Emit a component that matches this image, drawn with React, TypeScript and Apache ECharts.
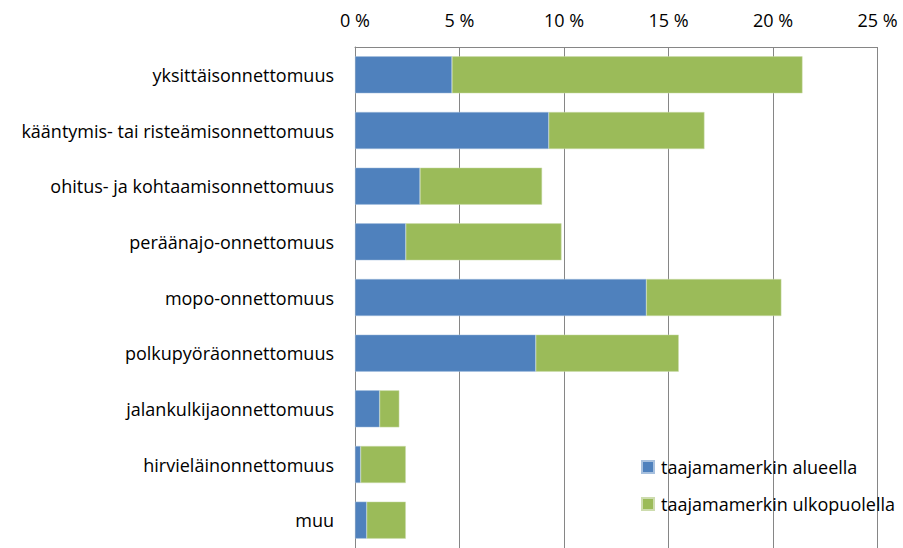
import React, { useEffect, useRef } from "react";
import * as echarts from "echarts";

const categories = [
  "yksittäisonnettomuus",
  "kääntymis- tai risteämisonnettomuus",
  "ohitus- ja kohtaamisonnettomuus",
  "peräänajo-onnettomuus",
  "mopo-onnettomuus",
  "polkupyöräonnettomuus",
  "jalankulkijaonnettomuus",
  "hirvieläinonnettomuus",
  "muu",
];
const insideArea = [4.64, 9.27, 3.11, 2.43, 13.94, 8.65, 1.18, 0.27, 0.56];
const outsideArea = [16.77, 7.45, 5.84, 7.45, 6.46, 6.84, 0.94, 2.16, 1.87];
const seriesNames = ["taajamamerkin alueella", "taajamamerkin ulkopuolella"];
const xTicks = { min: 0, max: 25, interval: 5 };

const FONT = "'Open Sans', 'Noto Sans', sans-serif";
const FS = 18;

export default function App() {
  const ref = useRef<HTMLDivElement>(null);
  useEffect(() => {
    if (!ref.current) return;
    const chart = echarts.init(ref.current, undefined, { renderer: "svg" });
    chart.setOption({
      animation: false,
      backgroundColor: "#ffffff",
      textStyle: { fontFamily: FONT },
      grid: { left: 355, top: 47, width: 522.5, height: 506, containLabel: false },
      legend: {
        orient: "vertical",
        left: 636,
        top: 451,
        icon: "rect",
        itemWidth: 12,
        itemHeight: 12,
        itemGap: 15,
        data: seriesNames,
        textStyle: { fontFamily: FONT, fontSize: FS, color: "#000", lineHeight: 22, padding: [0, 0, 0, 2] },
      },
      xAxis: {
        type: "value",
        position: "top",
        min: xTicks.min,
        max: xTicks.max,
        interval: xTicks.interval,
        axisLine: { show: true, lineStyle: { color: "#868686", width: 1 } },
        axisTick: { show: false },
        splitLine: { show: true, lineStyle: { color: "#868686", width: 1 } },
        axisLabel: {
          formatter: (v: number) => `${v} %`,
          fontFamily: FONT,
          fontSize: FS,
          color: "#000",
          margin: 18,
        },
      },
      yAxis: {
        type: "category",
        data: categories,
        inverse: true,
        axisLine: { show: true, lineStyle: { color: "#868686", width: 1 } },
        axisTick: { show: false },
        axisLabel: { fontFamily: FONT, fontSize: FS, color: "#000", margin: 21 },
      },
      series: [
        {
          name: seriesNames[0],
          type: "bar",
          stack: "total",
          data: insideArea,
          barWidth: 37,
          itemStyle: { color: "#4F81BD", borderColor: "#a7c0de", borderWidth: 0.5 },
        },
        {
          name: seriesNames[1],
          type: "bar",
          stack: "total",
          data: outsideArea,
          barWidth: 37,
          itemStyle: { color: "#9BBB59", borderColor: "#cddcae", borderWidth: 0.5 },
        },
      ],
    });
    return () => chart.dispose();
  }, []);
  return (
    <div
      ref={ref}
      style={{ position: "fixed", left: 0, top: 0, width: 903, height: 548, background: "#fff" }}
    />
  );
}
